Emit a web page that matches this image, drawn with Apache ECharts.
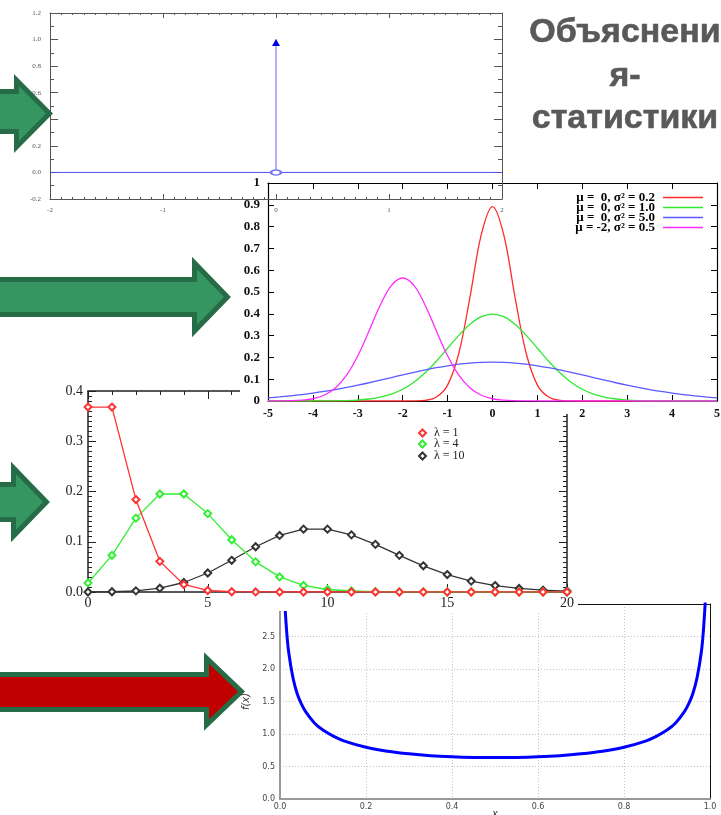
<!DOCTYPE html>
<html>
<head>
<meta charset="utf-8">
<script src="https://cdn.jsdelivr.net/npm/echarts@6/dist/echarts.min.js"></script>
<style>
  html, body { margin: 0; padding: 0; background: #fff; }
  #chart { width: 721px; height: 815px; }
</style>
</head>
<body>
<div id="chart"></div>
<script>
// ---------- data ----------
// Dirac delta: spike position / weight and the baseline extent
const deltaPos = [0];
const deltaWeight = [1];
const deltaBaseX = [-2, 2];
const deltaBaseY = [0, 0];

// Normal densities sampled on a common x grid
const normalX = [-5,-4.75,-4.5,-4.25,-4,-3.75,-3.5,-3.25,-3,-2.75,-2.5,-2.25,-2,-1.75,-1.5,-1.25,-1,-0.75,-0.5,-0.25,0,0.25,0.5,0.75,1,1.25,1.5,1.75,2,2.25,2.5,2.75,3,3.25,3.5,3.75,4,4.25,4.5,4.75,5];
const normalMu0Var02 = [0,0,0,0,0,0,0,0,0,0,0,0,0,0.0004,0.003,0.018,0.073,0.219,0.478,0.763,0.892,0.763,0.478,0.219,0.073,0.018,0.003,0.0004,0,0,0,0,0,0,0,0,0,0,0,0,0];
const normalMu0Var1 = [0,0,0,0.0001,0.0001,0.0004,0.0009,0.002,0.0044,0.0091,0.0175,0.0317,0.054,0.0863,0.1295,0.1826,0.242,0.3011,0.3521,0.3867,0.3989,0.3867,0.3521,0.3011,0.242,0.1826,0.1295,0.0863,0.054,0.0317,0.0175,0.0091,0.0044,0.002,0.0009,0.0004,0.0001,0.0001,0,0,0];
const normalMu0Var5 = [0.0146,0.0187,0.0236,0.0293,0.036,0.0437,0.0524,0.0621,0.0725,0.0837,0.0955,0.1075,0.1196,0.1313,0.1425,0.1526,0.1614,0.1687,0.174,0.1773,0.1784,0.1773,0.174,0.1687,0.1614,0.1526,0.1425,0.1313,0.1196,0.1075,0.0955,0.0837,0.0725,0.0621,0.0524,0.0437,0.036,0.0293,0.0236,0.0187,0.0146];
const normalMuM2Var05 = [0.0001,0.0003,0.0011,0.0036,0.0103,0.0264,0.0595,0.1183,0.2076,0.3215,0.4394,0.530,0.5642,0.530,0.4394,0.3215,0.2076,0.1183,0.0595,0.0264,0.0103,0.0036,0.0011,0.0003,0.0001,0,0,0,0,0,0,0,0,0,0,0,0,0,0,0,0];
const normalNames = ['μ =  0, σ² = 0.2', 'μ =  0, σ² = 1.0', 'μ =  0, σ² = 5.0', 'μ = -2, σ² = 0.5'];

// Poisson probabilities for k = 0..20
const poissonK = [0,1,2,3,4,5,6,7,8,9,10,11,12,13,14,15,16,17,18,19,20];
const poissonL1 = [0.368,0.368,0.184,0.061,0.015,0.003,0.0005,0.0001,0,0,0,0,0,0,0,0,0,0,0,0,0];
const poissonL4 = [0.018,0.073,0.147,0.195,0.195,0.156,0.104,0.060,0.030,0.013,0.005,0.002,0.0006,0.0002,0.0001,0,0,0,0,0,0];
const poissonL10 = [0.00005,0.0005,0.0023,0.0076,0.0189,0.0378,0.0631,0.0901,0.1126,0.1251,0.1251,0.1137,0.0948,0.0729,0.0521,0.0347,0.0217,0.0128,0.0071,0.0037,0.0019];
const poissonNames = ['λ = 1', 'λ = 4', 'λ = 10'];

// Arcsine density f(x) on (0, 1)
const arcX = [0.005,0.01,0.015,0.02,0.03,0.04,0.05,0.06,0.08,0.1,0.125,0.15,0.2,0.25,0.3,0.35,0.4,0.45,0.5,0.55,0.6,0.65,0.7,0.75,0.8,0.85,0.875,0.9,0.92,0.94,0.95,0.96,0.97,0.98,0.985,0.99,0.995];
const arcY = [4.51,3.20,2.62,2.27,1.87,1.62,1.46,1.34,1.17,1.06,0.963,0.891,0.796,0.735,0.695,0.667,0.650,0.640,0.637,0.640,0.650,0.667,0.695,0.735,0.796,0.891,0.963,1.06,1.17,1.34,1.46,1.62,1.87,2.27,2.62,3.20,4.51];

// Heading text, one entry per line
const headingLines = ['Объяснени', 'я-', 'статистики'];

// ---------- helpers ----------
const SERIF = '"Liberation Serif", "DejaVu Serif", serif';
const SANS = '"DejaVu Sans", sans-serif';
const pairs = (xs, ys) => xs.map((x, i) => [x, ys[i]]);
const fmt1 = v => v.toFixed(1);

// Box-style axis (ticks inside, optional labels)
function boxAxis(o) {
  return {
    type: 'value', gridIndex: o.grid, position: o.pos,
    min: o.min, max: o.max, interval: o.interval, z: o.z,
    axisLine: { show: true, onZero: false, lineStyle: { color: o.color, width: o.lw } },
    axisTick: { show: true, inside: true, length: o.tick, lineStyle: { color: o.color, width: 1 } },
    minorTick: o.minor ? { show: true, splitNumber: o.minor, length: o.minorLen, lineStyle: { color: o.color, width: 1 } } : { show: false },
    axisLabel: o.label ? Object.assign({ show: true }, o.label) : { show: false },
    splitLine: { show: false }
  };
}

// Block arrow polygon, inset by half the border so the outer edge lands on the given outline
function arrowPoints(shaftTop, shaftBot, headX, headTop, headBot, tipX, h) {
  const tipY = (headTop + headBot) / 2;
  const d = h * (1 + Math.SQRT2);
  return [
    [-20, shaftTop + h], [headX + h, shaftTop + h], [headX + h, headTop + d],
    [tipX - h * Math.SQRT2, tipY],
    [headX + h, headBot - d], [headX + h, shaftBot - h], [-20, shaftBot - h]
  ];
}
function arrow(pts, fill) {
  return { type: 'polygon', z: 40, shape: { points: pts },
           style: { fill: fill, stroke: '#266c47', lineWidth: 5, lineJoin: 'miter' } };
}

// ---------- axes ----------
const c1 = '#555';
const xAxes = [
  // delta plot
  boxAxis({ grid: 0, pos: 'bottom', min: -2, max: 2, interval: 1, z: 31, color: c1, lw: 1, tick: 5, minor: 10, minorLen: 2,
            label: { fontSize: 7, color: '#555', fontFamily: SERIF, margin: 8 } }),
  boxAxis({ grid: 0, pos: 'top', min: -2, max: 2, interval: 1, z: 31, color: c1, lw: 1, tick: 5, minor: 10, minorLen: 2 }),
  // normal densities
  boxAxis({ grid: 1, pos: 'bottom', min: -5, max: 5, interval: 1, z: 21, color: '#000', lw: 1.2, tick: 6,
            label: { fontSize: 12, fontWeight: 'bold', color: '#111', fontFamily: SERIF, margin: 7 } }),
  boxAxis({ grid: 1, pos: 'top', min: -5, max: 5, interval: 1, z: 21, color: '#000', lw: 1.2, tick: 6 }),
  // poisson
  boxAxis({ grid: 2, pos: 'bottom', min: 0, max: 20, interval: 5, z: 11, color: '#222', lw: 1.5, tick: 8, minor: 5, minorLen: 4,
            label: { fontSize: 14, color: '#222', fontFamily: SERIF, margin: 4 } }),
  boxAxis({ grid: 2, pos: 'top', min: 0, max: 20, interval: 5, z: 11, color: '#222', lw: 1.5, tick: 8, minor: 5, minorLen: 4 }),
  // arcsine
  {
    type: 'value', gridIndex: 3, position: 'bottom', min: 0, max: 1, interval: 0.2, z: 1,
    name: 'x', nameLocation: 'middle', nameGap: 10, nameMoveOverlap: false,
    nameTextStyle: { fontStyle: 'italic', fontFamily: SANS, fontSize: 10, color: '#333' },
    axisLine: { show: true, onZero: false, lineStyle: { color: '#999', width: 2 } },
    axisTick: { show: false },
    axisLabel: { show: true, formatter: fmt1, fontSize: 8, color: '#444', fontFamily: SANS, margin: 4 },
    splitLine: { show: true, lineStyle: { color: '#c4c4c4', type: [1, 2], width: 1 } }
  },
  {
    type: 'value', gridIndex: 3, position: 'top', min: 0, max: 1, z: 1,
    axisLine: { show: true, onZero: false, lineStyle: { color: '#111', width: 1 } },
    axisTick: { show: false }, axisLabel: { show: false }, splitLine: { show: false }
  }
];

const yAxes = [
  boxAxis({ grid: 0, pos: 'left', min: -0.2, max: 1.2, interval: 0.2, z: 31, color: c1, lw: 1, tick: 8, minor: 2, minorLen: 4,
            label: { fontSize: 7, color: '#555', fontFamily: SERIF, margin: 9, formatter: fmt1 } }),
  boxAxis({ grid: 0, pos: 'right', min: -0.2, max: 1.2, interval: 0.2, z: 31, color: c1, lw: 1, tick: 8, minor: 2, minorLen: 4 }),
  boxAxis({ grid: 1, pos: 'left', min: 0, max: 1, interval: 0.1, z: 21, color: '#000', lw: 1.2, tick: 6,
            label: { fontSize: 13, fontWeight: 'bold', color: '#111', fontFamily: SERIF, margin: 8, formatter: v => String(+v.toFixed(1)) } }),
  boxAxis({ grid: 1, pos: 'right', min: 0, max: 1, interval: 0.1, z: 21, color: '#000', lw: 1.2, tick: 6 }),
  boxAxis({ grid: 2, pos: 'left', min: 0, max: 0.4, interval: 0.1, z: 11, color: '#222', lw: 1.5, tick: 8, minor: 10, minorLen: 4,
            label: { fontSize: 14, color: '#222', fontFamily: SERIF, margin: 5, formatter: fmt1 } }),
  boxAxis({ grid: 2, pos: 'right', min: 0, max: 0.4, interval: 0.1, z: 11, color: '#222', lw: 1.5, tick: 8, minor: 10, minorLen: 4 }),
  {
    type: 'value', gridIndex: 3, position: 'left', min: 0, max: 3, interval: 0.5, z: 1,
    name: 'f(x)', nameLocation: 'middle', nameGap: 29, nameRotate: 90, nameMoveOverlap: false,
    nameTextStyle: { fontStyle: 'italic', fontFamily: SANS, fontSize: 10, color: '#333' },
    axisLine: { show: true, onZero: false, lineStyle: { color: '#999', width: 2 } },
    axisTick: { show: false },
    axisLabel: { show: true, formatter: fmt1, fontSize: 8, color: '#444', fontFamily: SANS, margin: 5 },
    splitLine: { show: true, lineStyle: { color: '#c4c4c4', type: [1, 2], width: 1 } }
  },
  {
    type: 'value', gridIndex: 3, position: 'right', min: 0, max: 3, z: 1,
    axisLine: { show: true, onZero: false, lineStyle: { color: '#111', width: 1 } },
    axisTick: { show: false }, axisLabel: { show: false }, splitLine: { show: false }
  }
];

// ---------- series ----------
const normalColors = ['#ff2b2b', '#2fe82f', '#5a5aff', '#ff2bff'];
const normalData = [normalMu0Var02, normalMu0Var1, normalMu0Var5, normalMuM2Var05];
const normalSeries = normalData.map((ys, i) => ({
  type: 'line', name: normalNames[i], xAxisIndex: 2, yAxisIndex: 2, z: 22,
  data: pairs(normalX, ys), smooth: 0.35, symbol: 'none', color: normalColors[i],
  lineStyle: { width: 1.3, color: normalColors[i] }
}));

const poissonColors = ['#ff3333', '#33ee33', '#333333'];
const poissonData = [poissonL1, poissonL4, poissonL10];
const poissonSeries = poissonData.map((ys, i) => ({
  type: 'line', name: poissonNames[i], xAxisIndex: 4, yAxisIndex: 4, z: 12 + (2 - i) * 0.1,
  data: pairs(poissonK, ys), symbol: 'emptyDiamond', symbolSize: 7, color: poissonColors[i],
  lineStyle: { width: 1.3, color: poissonColors[i] },
  itemStyle: { color: poissonColors[i], borderWidth: 1 }
})).reverse();

const series = [
  {
    type: 'line', name: 'baseline', xAxisIndex: 0, yAxisIndex: 0, z: 32,
    data: pairs(deltaBaseX, deltaBaseY), symbol: 'none',
    lineStyle: { color: '#4d4df2', width: 1 }
  },
  {
    type: 'line', name: 'spike', xAxisIndex: 0, yAxisIndex: 0, z: 33,
    data: [
      { value: [deltaPos[0], 0], symbol: 'emptyCircle', symbolSize: [10, 5], itemStyle: { color: '#7a7af2', borderWidth: 1 } },
      { value: [deltaPos[0], deltaWeight[0]], symbol: 'triangle', symbolSize: [8, 7], symbolOffset: [0, 3], itemStyle: { color: '#0000f0' } }
    ],
    lineStyle: { color: '#6262f2', width: 1 }
  },
  ...normalSeries,
  ...poissonSeries,
  {
    type: 'line', name: 'arcsine', xAxisIndex: 6, yAxisIndex: 6, z: 2,
    data: pairs(arcX, arcY), smooth: 0.3, symbol: 'none', clip: true,
    lineStyle: { color: '#0000ff', width: 3 }
  }
];

// ---------- legends ----------
const normalLegendTops = [191, 201, 211, 221];
const normalLegends = normalNames.map((n, i) => ({
  data: [n], right: 18, top: normalLegendTops[i], orient: 'vertical', align: 'right',
  icon: 'rect', itemWidth: 40, itemHeight: 1.5, padding: 0, selectedMode: false, z: 23,
  textStyle: { fontFamily: SERIF, fontSize: 13, fontWeight: 'bold', color: '#000', lineHeight: 10, padding: [0, 3, 0, 0] }
}));
const poissonLegendTops = [427, 438, 450];
const poissonLegends = poissonNames.map((n, i) => ({
  data: [n], left: 418, top: poissonLegendTops[i], orient: 'vertical',
  icon: 'emptyDiamond', itemWidth: 7, itemHeight: 7, padding: 0, selectedMode: false, z: 13,
  textStyle: { fontFamily: SERIF, fontSize: 12, color: '#222', lineHeight: 12, padding: [0, 0, 0, 3] }
}));

// ---------- decorations ----------
const graphics = [
  // panels sit on opaque white cards, later ones above earlier ones
  { type: 'rect', z: 10, shape: { x: 55, y: 385, width: 523, height: 226 }, style: { fill: '#fff' } },
  { type: 'rect', z: 20, shape: { x: 240, y: 181, width: 481, height: 233 }, style: { fill: '#fff' } },
  arrow(arrowPoints(89, 134, 14, 74, 153, 53, 2.5), '#369662'),
  arrow(arrowPoints(277, 317, 192, 257, 337, 231, 2.5), '#369662'),
  arrow(arrowPoints(482, 522, 11, 462, 542, 50, 2.5), '#369662'),
  arrow(arrowPoints(672, 712, 204, 652, 731, 245, 2.5), '#c00000'),
  ...headingLines.map((t, i) => ({
    type: 'text', z: 40, x: 625, y: [33, 77, 119][i],
    style: { text: t, fill: '#595959', stroke: '#595959', lineWidth: 0.6,
             fontSize: 34, fontWeight: 'bold',
             fontFamily: '"Liberation Sans", Arial, sans-serif',
             textAlign: 'center', textVerticalAlign: 'middle' }
  }))
];

const option = {
  animation: false,
  backgroundColor: '#fff',
  textStyle: { fontFamily: SERIF },
  grid: [
    { left: 50, top: 13, width: 452, height: 186, outerBoundsMode: 'none', containLabel: false },
    { left: 268, top: 183, width: 449, height: 218, outerBoundsMode: 'none', containLabel: false },
    { left: 88, top: 391, width: 479, height: 201, outerBoundsMode: 'none', containLabel: false },
    { left: 280, top: 604, width: 430, height: 195, outerBoundsMode: 'none', containLabel: false }
  ],
  xAxis: xAxes,
  yAxis: yAxes,
  legend: [...normalLegends, ...poissonLegends],
  graphic: graphics,
  series: series
};

const chart = echarts.init(document.getElementById('chart'), null, { renderer: 'canvas' });
chart.setOption(option);
</script>
</body>
</html>
